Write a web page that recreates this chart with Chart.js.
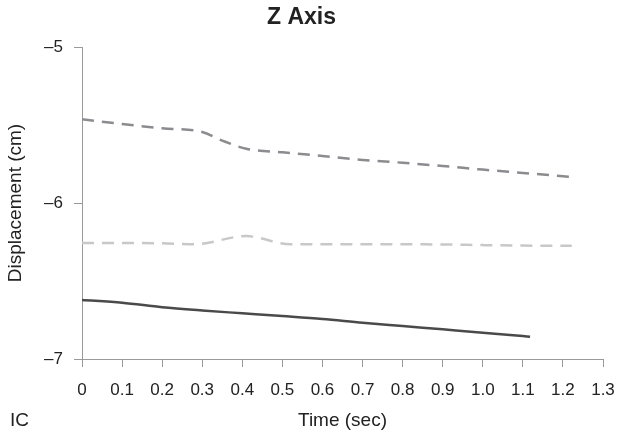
<!DOCTYPE html>
<html lang="en">
<head>
  <meta charset="UTF-8">
  <title>Z Axis</title>
  <script src="https://cdn.jsdelivr.net/npm/chart.js"></script>
  <style>
    body {
      margin: 0;
      background: #fff;
    }
  </style>
</head>
<body>
  <canvas id="chart" width="617" height="438"></canvas>

  <script>
    // tick labels
    const xTickLabels = ["0", "0.1", "0.2", "0.3", "0.4", "0.5", "0.6", "0.7", "0.8", "0.9", "1.0", "1.1", "1.2", "1.3"];
    const yTicks = [-7, -6, -5];
    const yTickLabels = ["\u20137", "\u20136", "\u20135"];

    // upper dashed trace
    const timeUpper = [0, 0.1, 0.2, 0.3, 0.35, 0.41, 0.5, 0.6, 0.7, 0.8, 0.9, 1.0, 1.1, 1.2, 1.222];
    const zUpper = [-5.463, -5.494, -5.521, -5.545, -5.60, -5.652, -5.675, -5.699, -5.724, -5.742, -5.763, -5.786, -5.807, -5.828, -5.833];

    // light dashed trace
    const timeMiddle = [0, 0.1, 0.2, 0.28, 0.41, 0.52, 0.6, 0.7, 0.8, 0.9, 1.0, 1.1, 1.222];
    const zMiddle = [-6.257, -6.257, -6.258, -6.265, -6.212, -6.265, -6.265, -6.265, -6.265, -6.266, -6.27, -6.273, -6.274];

    // solid trace
    const timeLower = [0, 0.1, 0.2, 0.3, 0.4, 0.5, 0.6, 0.7, 0.8, 0.9, 1.0, 1.1, 1.118];
    const zLower = [-6.622, -6.639, -6.668, -6.689, -6.707, -6.725, -6.744, -6.768, -6.789, -6.81, -6.831, -6.853, -6.857];

    function toPoints(xs, ys) {
      return xs.map((x, i) => ({ x: x, y: ys[i] }));
    }

    const icLabel = {
      id: "icLabel",
      afterDraw(chart) {
        const ctx = chart.ctx;
        ctx.save();
        ctx.font = "19px 'Liberation Sans', Arial, sans-serif";
        ctx.fillStyle = "#222";
        ctx.textAlign = "left";
        ctx.textBaseline = "middle";
        ctx.fillText("IC", 10, 421);
        ctx.restore();
      }
    };

    const axisColor = "#9a9a9a";
    const fontFamily = "'Liberation Sans', Arial, sans-serif";

    new Chart(document.getElementById("chart").getContext("2d"), {
      type: "line",
      data: {
        datasets: [
          {
            data: toPoints(timeUpper, zUpper),
            borderColor: "#8c8c90",
            borderWidth: 2.5,
            borderDash: [12, 8],
            pointRadius: 0,
            cubicInterpolationMode: "monotone",
            fill: false
          },
          {
            data: toPoints(timeMiddle, zMiddle),
            borderColor: "#c8c8c8",
            borderWidth: 2.5,
            borderDash: [12, 8],
            pointRadius: 0,
            cubicInterpolationMode: "monotone",
            fill: false
          },
          {
            data: toPoints(timeLower, zLower),
            borderColor: "#4a4a4a",
            borderWidth: 2.5,
            pointRadius: 0,
            cubicInterpolationMode: "monotone",
            fill: false
          }
        ]
      },
      options: {
        responsive: false,
        animation: false,
        layout: { padding: { top: 0, right: 14, bottom: 0, left: 0 } },
        plugins: {
          legend: { display: false },
          tooltip: { enabled: false },
          title: {
            display: true,
            text: "Z Axis",
            color: "#222",
            font: { family: fontFamily, size: 23, weight: "bold" },
            padding: { top: 4, bottom: 15.4 }
          }
        },
        scales: {
          x: {
            type: "linear",
            min: 0,
            max: 1.3,
            afterFit(scale) {
              scale.height = 79;
              scale.paddingLeft = 0;
              scale.paddingRight = 0;
            },
            border: { color: axisColor, width: 1 },
            grid: { drawOnChartArea: false, drawTicks: true, tickLength: 8, color: axisColor },
            ticks: {
              stepSize: 0.1,
              autoSkip: false,
              maxRotation: 0,
              padding: 13,
              color: "#222",
              font: { family: fontFamily, size: 17 },
              callback: (v, i) => xTickLabels[i]
            },
            title: {
              display: true,
              text: "Time (sec)",
              color: "#222",
              font: { family: fontFamily, size: 19 },
              padding: { top: 0, bottom: 5.6 }
            }
          },
          y: {
            min: -7,
            max: -5,
            afterFit(scale) { scale.width = 82; },
            border: { color: axisColor, width: 1 },
            grid: { drawOnChartArea: false, drawTicks: true, tickLength: 8, color: axisColor },
            ticks: {
              stepSize: 1,
              padding: 11,
              color: "#222",
              font: { family: fontFamily, size: 17 },
              callback: v => yTickLabels[yTicks.indexOf(Math.round(v))]
            },
            title: {
              display: true,
              text: "Displacement (cm)",
              color: "#222",
              font: { family: fontFamily, size: 19 },
              padding: { top: 4.6, bottom: 0 }
            }
          }
        }
      },
      plugins: [icLabel]
    });
  </script>
</body>
</html>
